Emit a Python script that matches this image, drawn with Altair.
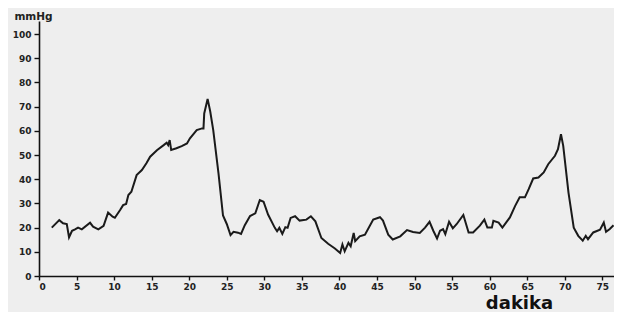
import altair as alt
import pandas as pd

minutes = [1.7, 2.7, 3.2, 3.7, 4.0, 4.4, 4.8, 5.2, 5.7, 6.8, 7.2, 7.9, 8.6, 9.2, 9.8, 10.1,
           10.8, 11.2, 11.6, 11.9, 12.3, 13.0, 13.7, 14.3, 14.8, 15.7, 16.6, 17.0, 17.2, 17.4,
           17.6, 18.3, 19.0, 19.7, 20.1, 21.0, 21.7, 21.9, 22.0, 22.45, 22.8, 23.2, 23.9, 24.5,
           25.0, 25.5, 25.9, 26.5, 26.9, 27.4, 28.1, 28.8, 29.4, 29.9, 30.5, 31.4, 31.7, 32.0,
           32.4, 32.8, 33.1, 33.5, 34.1, 34.7, 35.6, 36.2, 36.8, 37.6, 38.5, 39.4, 40.1, 40.4,
           40.7, 41.2, 41.5, 41.9, 42.1, 42.7, 43.4, 44.5, 45.4, 45.8, 46.5, 47.1, 48.1, 49.0,
           49.8, 50.7, 51.4, 52.0, 52.5, 53.0, 53.4, 53.8, 54.1, 54.6, 55.1, 55.6, 56.5, 57.2,
           57.8, 58.7, 59.3, 59.7, 60.3, 60.5, 61.2, 61.7, 62.7, 63.4, 64.0, 64.7, 65.2, 65.8,
           66.5, 67.2, 67.8, 68.7, 69.1, 69.5, 69.8, 70.5, 71.2, 71.8, 72.4, 72.8, 73.1, 73.8,
           74.7, 75.2, 75.5, 76.0, 76.5]
pressure = [20.0, 23.1, 21.8, 21.5, 16.0, 18.7, 19.3, 20.0, 19.3, 22.0, 20.4, 19.3, 20.7, 26.2, 24.5, 24.1,
            27.3, 29.3, 29.8, 33.5, 34.8, 41.7, 43.8, 46.6, 49.3, 52.0, 54.1, 55.1, 54.1, 56.2,
            52.1, 52.8, 53.7, 54.8, 56.9, 60.3, 61.0, 61.0, 67.2, 73.2, 68.0, 60.3, 42.4, 25.0,
            21.5, 16.9, 18.3, 17.9, 17.4, 21.0, 24.8, 25.9, 31.4, 30.7, 25.4, 19.9, 18.5, 19.9,
            17.4, 20.2, 19.9, 24.0, 24.7, 22.9, 23.3, 24.7, 22.6, 15.7, 13.3, 11.4, 9.5, 13.0,
            10.2, 13.7, 12.3, 17.8, 14.4, 16.4, 17.1, 23.3, 24.3, 22.9, 17.1, 15.1, 16.4, 19.0,
            18.2, 17.8, 20.0, 22.4, 18.7, 15.5, 18.7, 19.4, 17.3, 22.4, 19.7, 21.4, 25.2, 18.0,
            18.0, 20.8, 23.3, 20.0, 20.0, 22.8, 22.1, 20.0, 24.2, 29.0, 32.5, 32.5, 35.9, 40.3,
            40.7, 42.8, 46.2, 49.7, 52.4, 58.6, 53.8, 34.5, 20.0, 16.6, 14.6, 16.6, 15.2, 18.0,
            19.1, 22.1, 18.3, 19.4, 21.0]

x_ticks = list(range(0, 80, 5))
y_ticks = list(range(0, 110, 10))

df = pd.DataFrame({"dakika": minutes, "mmHg": pressure})

chart = alt.Chart(df).mark_line(color="#1a1a1a", strokeWidth=2).encode(
    x=alt.X("dakika:Q",
            scale=alt.Scale(domain=[0, 76.56], nice=False, zero=False),
            axis=alt.Axis(values=x_ticks, title="dakika", grid=False,
                          titleFontSize=18, titleFont="DejaVu Sans", titleFontWeight="bold",
                          titleColor="#111111", titleX=480, titleY=32,
                          titleAlign="center", titleBaseline="alphabetic",
                          labelFontSize=9, labelPadding=2, tickSize=4)),
    y=alt.Y("mmHg:Q",
            scale=alt.Scale(domain=[0, 105.4], nice=False),
            axis=alt.Axis(values=y_ticks, title="mmHg", grid=False,
                          titleAngle=0, titleX=-6, titleY=-5, titleAlign="center",
                          titleBaseline="middle", titleFontSize=10.5,
                          titleFont="DejaVu Sans", titleFontWeight="bold",
                          titleColor="#222222",
                          labelFontSize=9, labelPadding=3, tickSize=5)),
).properties(
    width=575,
    height=255,
    background="#eeeeee",
    padding={"left": 31, "top": 13, "right": 0, "bottom": 36},
    autosize=alt.AutoSizeParams(type="none"),
).configure_view(
    stroke=None
).configure_axis(
    domainColor="#111111",
    domainWidth=1.6,
    tickColor="#111111",
    tickWidth=1.4,
    labelFont="DejaVu Sans",
    labelFontWeight="bold",
    labelColor="#222222",
)

chart.save("out.html", embed_options={"renderer": "svg", "actions": False})
